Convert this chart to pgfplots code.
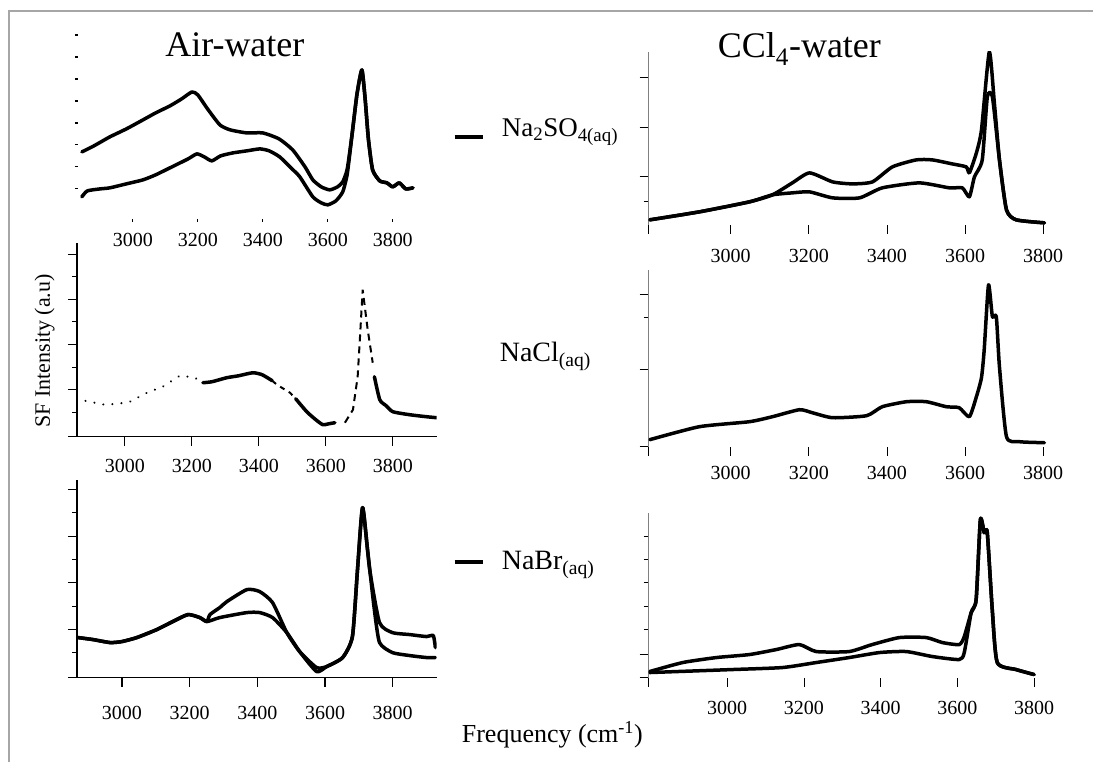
\documentclass[border=0pt]{standalone}
\usepackage{fontspec}
\setmainfont{Liberation Serif}
\usepackage{pgfplots}
\pgfplotsset{compat=1.18}
\pgfplotsset{
  curve/.style={black, mark=none, line width=3.5pt, line join=round, line cap=round, smooth, tension=0.35},
  panel/.style={scale only axis, axis x line*=bottom, axis y line*=left,
    tick align=outside, yticklabels={}, ymin=0,
    major tick length=9pt, minor tick length=5pt,
    every tick/.style={black, line width=1.2pt},
    xticklabel style={font=\fontsize{20}{20}\selectfont},
  },
  leftpanel/.style={panel, axis line style={black, line width=1.2pt},
    xtick={3000,3200,3400,3600,3800}, xticklabels={3000,3200,3400,3600,3800}},
  rightpanel/.style={panel, axis line style={gray, line width=0.8pt},
    x axis line style={draw=none},
    every tick/.style={black, line width=0.8pt},
    xtick={2790,3000,3200,3400,3600,3800}, xticklabels={,3000,3200,3400,3600,3800}},
}
\begin{document}
\begin{tikzpicture}[x=1pt,y=1pt]
\path (0,0) rectangle (1094,763);
\draw[gray!70, line width=1.5pt] (9,0) -- (9,752) -- (1094,752);

% ---------- Panel 1: Air-water, Na2SO4 ----------
\begin{axis}[panel, at={(78pt,544pt)}, anchor=south west, width=342pt, height=189pt,
  xmin=2831, xmax=3883, ymax=189, axis line style={draw=none},
  xtick={3000,3200,3400,3600,3800}, xticklabels={3000,3200,3400,3600,3800},
  ytick={30,52,74,96,118,140,162,184}, major tick length=3pt,
  xticklabel style={yshift=-8pt}]
\addplot[curve] coordinates {(2843,67)(2880,73)(2929,82)(2980,90)(3031,99)(3070,106)(3114,113)(3150,120)(3182,127)(3200,124)(3230,110)(3268,94)(3300,89)(3351,86)(3400,86)(3450,80)(3492,69)(3530,52)(3554,39)(3580,32)(3606,29)(3630,32)(3646,37)(3660,50)(3675,85)(3690,125)(3705,149)(3715,120)(3725,80)(3738,49)(3760,38)(3782,36)(3800,32)(3820,36)(3840,30)(3862,31)};
\addplot[curve] coordinates {(2843,22)(2860,28)(2900,30)(2929,31)(2980,35)(3031,39)(3070,44)(3114,51)(3170,60)(3197,65)(3220,62)(3243,58)(3270,63)(3308,66)(3350,68)(3391,70)(3420,68)(3452,62)(3490,50)(3514,42)(3554,22)(3580,16)(3600,14)(3625,18)(3646,27)(3660,45)(3675,85)(3690,125)(3705,149)(3715,120)(3725,80)(3738,49)(3760,38)(3782,36)(3800,32)(3820,36)(3840,30)(3862,31)};
\end{axis}

% ---------- Panel 2: Air-water, NaCl ----------
\begin{axis}[leftpanel, at={(77pt,326pt)}, anchor=south west, width=360pt, height=194pt,
  xmin=2857, xmax=3931, ymax=194,
  ytick={0,47,92,137,182}, minor ytick={24,69,115,160},
  xticklabel style={yshift=-10pt}]
\addplot[black, line width=2.2pt, line cap=round, dash pattern=on 0.1pt off 9pt] coordinates {(2857,39)(2880,36)(2910,34)(2940,32)(2980,33)(3015,35)(3066,44)(3113,50)(3164,61)(3190,60)(3209,59)(3233,54)};
\addplot[curve] coordinates {(3233,54)(3260,55)(3304,59)(3340,61)(3382,64)(3410,62)(3440,56)};
\addplot[black, line width=2pt, dash pattern=on 5pt off 5pt] coordinates {(3440,56)(3454,52)(3493,44)(3510,38)};
\addplot[curve] coordinates {(3510,38)(3543,25)(3570,17)(3591,12)(3610,13)(3627,14)};
\addplot[black, line width=2pt, dash pattern=on 7pt off 5pt] coordinates {(3657,14)(3681,27)(3695,60)(3701,94)(3710,147)(3725,107)(3740,74)};
\addplot[curve] coordinates {(3745,60)(3761,37)(3780,31)(3800,25)(3850,22)(3900,20)(3931,19)};
\end{axis}

% ---------- Panel 3: Air-water, NaBr ----------
\begin{axis}[leftpanel, at={(77pt,85pt)}, anchor=south west, width=360pt, height=198pt,
  xmin=2867, xmax=3930, ymax=198,
  ytick={0,48,95,141,188}, minor ytick={25,71,118,165},
  xticklabel style={yshift=-16pt}]
\addplot[curve] coordinates {(2870,40)(2914,38)(2965,35)(3000,36)(3044,40)(3103,48)(3150,56)(3195,63)(3230,60)(3251,56)(3260,63)(3289,70)(3310,76)(3369,88)(3407,86)(3445,75)(3487,45)(3525,26)(3575,10)(3605,11)(3652,20)(3681,41)(3696,108)(3711,170)(3732,108)(3761,55)(3799,45)(3850,43)(3900,41)(3920,42)(3926,30)};
\addplot[curve] coordinates {(2870,40)(2914,38)(2965,35)(3000,36)(3044,40)(3103,48)(3150,56)(3195,63)(3230,60)(3251,56)(3289,60)(3369,65)(3407,65)(3445,60)(3487,45)(3525,26)(3575,6)(3605,11)(3652,20)(3681,41)(3696,108)(3711,170)(3725,130)(3745,70)(3761,35)(3799,25)(3850,22)(3900,20)(3926,20)};
\end{axis}

% ---------- Panel 4: CCl4-water, Na2SO4 ----------
\begin{axis}[rightpanel, at={(649pt,538pt)}, anchor=south west, width=400pt, height=173pt,
  xmin=2790, xmax=3813, ymax=173,
  ytick={48,98,148}, minor ytick={23},
  xticklabel style={yshift=-12pt}]
\addplot[curve] coordinates {(2793,5)(2920,13)(3048,23)(3107,30)(3158,42)(3202,52)(3261,43)(3312,41)(3363,43)(3414,58)(3475,65)(3516,65)(3567,61)(3603,58)(3611,52)(3629,72)(3642,95)(3662,173)(3675,122)(3688,65)(3706,15)(3731,5)(3803,2)};
\addplot[curve] coordinates {(2793,5)(2920,13)(3048,23)(3107,30)(3158,32)(3202,33)(3261,27)(3330,27)(3388,37)(3483,42)(3560,37)(3593,37)(3611,28)(3624,48)(3644,65)(3657,128)(3670,128)(3688,65)(3706,15)(3731,5)(3803,2)};
\end{axis}

% ---------- Panel 5: CCl4-water, NaCl ----------
\begin{axis}[rightpanel, at={(649pt,316pt)}, anchor=south west, width=400pt, height=177pt,
  xmin=2790, xmax=3813, ymax=177,
  ytick={0,77,152}, minor ytick={129},
  xticklabel style={yshift=-7pt}]
\addplot[curve] coordinates {(2793,7)(2920,20)(3048,25)(3107,30)(3176,37)(3209,34)(3261,29)(3348,31)(3388,40)(3450,45)(3501,45)(3552,40)(3585,39)(3611,30)(3629,50)(3642,69)(3649,97)(3660,162)(3670,130)(3680,130)(3688,80)(3706,10)(3739,5)(3803,4)};
\end{axis}

% ---------- Panel 6: CCl4-water, NaBr ----------
\begin{axis}[rightpanel, at={(649pt,85pt)}, anchor=south west, width=390pt, height=165pt,
  xmin=2795, xmax=3811, ymax=165,
  ytick={0,23}, minor ytick={48,71,95,118,141},
  xtick={2795,3000,3200,3400,3600,3800},
  xticklabel style={yshift=-11pt}]
\addplot[curve] coordinates {(2798,6)(2884,15)(2972,20)(3058,23)(3128,28)(3188,33)(3232,26)(3318,26)(3378,33)(3449,40)(3519,40)(3561,35)(3605,33)(3618,41)(3636,65)(3649,78)(3660,158)(3670,145)(3678,145)(3691,68)(3704,15)(3753,8)(3800,3)};
\addplot[curve] coordinates {(2798,5)(3014,8)(3144,10)(3232,15)(3318,20)(3397,25)(3467,26)(3535,21)(3605,18)(3618,25)(3636,65)(3649,78)(3660,158)(3670,145)(3678,145)(3691,68)(3704,15)(3753,8)(3800,3)};
\end{axis}

% ---------- Texts ----------
\node[anchor=base, font=\fontsize{36}{36}\selectfont] at (235,706) {Air-water};
\node[anchor=base, font=\fontsize{36}{36}\selectfont] at (800,705) {CCl\textsubscript{4}-water};
\draw[line width=4pt] (455,626) -- (483,626);
\node[anchor=base west, inner sep=0pt, font=\fontsize{27}{27}\selectfont] at (502,626) {Na\textsubscript{2}SO\textsubscript{4(aq)}};
\node[anchor=base west, inner sep=0pt, font=\fontsize{28}{28}\selectfont] at (500,401) {NaCl\textsubscript{(aq)}};
\draw[line width=4pt] (455,201) -- (483,201);
\node[anchor=base west, inner sep=0pt, font=\fontsize{28}{28}\selectfont] at (502,193) {NaBr\textsubscript{(aq)}};
\node[rotate=90, anchor=base west, inner sep=0pt, font=\fontsize{22}{22}\selectfont] at (50,335) {SF Intensity (a.u)};
\node[anchor=base west, inner sep=0pt, font=\fontsize{26}{26}\selectfont] at (462,20) {Frequency (cm\textsuperscript{-1})};
\end{tikzpicture}
\end{document}
